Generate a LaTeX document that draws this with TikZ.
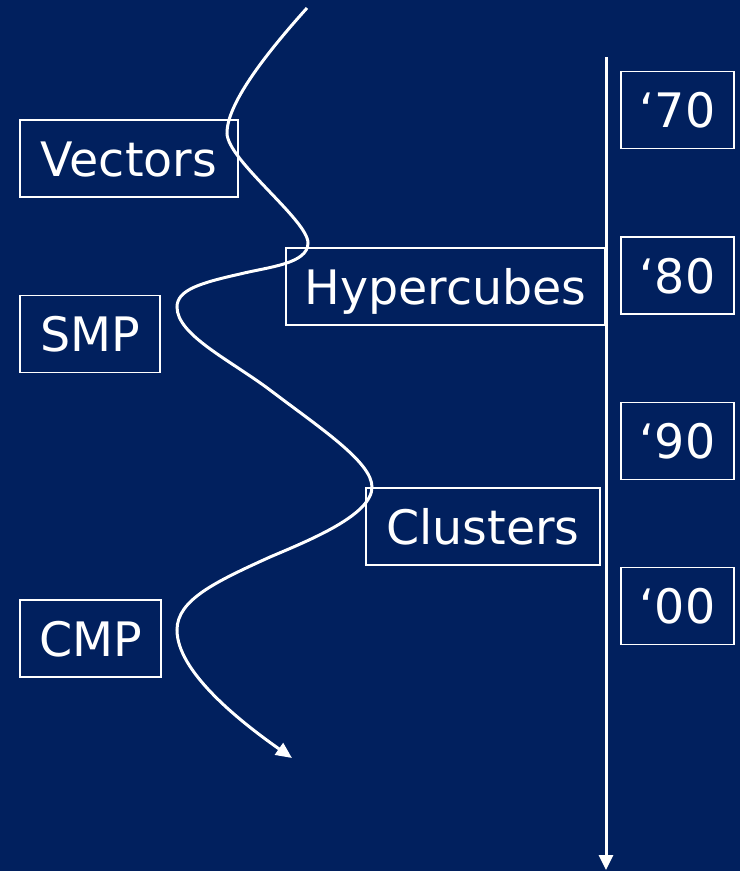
\documentclass[tikz,border=0pt]{standalone}
\usepackage{fontspec}
\setmainfont{DejaVu Sans}
\usetikzlibrary{arrows.meta}
\definecolor{navy}{RGB}{1,32,94}
\begin{document}
\begin{tikzpicture}[x=1pt,y=-1pt,
  labelbox/.style={draw=white, line width=1.6pt, text=white, inner sep=0pt,
    minimum height=77pt, text height=35pt, text depth=0pt,
    font=\fontsize{47.5}{57}\selectfont},
  wave/.style={draw=white, line width=3pt, -{Triangle[length=16pt,width=14pt]}},
  axis/.style={draw=white, line width=3pt, -{Triangle[length=15pt,width=14pt]}}]
% background
\fill[navy] (0,0) rectangle (740,871);
\useasboundingbox (0,0) rectangle (740,871);

% architecture labels
\node[labelbox, minimum width=218pt] (vectors) at (129,158.5) {Vectors};
\node[labelbox, minimum width=140pt] (smp) at (90,334) {SMP};
\node[labelbox, minimum width=141pt] (cmp) at (90.5,638.5) {CMP};
\node[labelbox, minimum width=319pt] (hyper) at (445.5,286.5) {Hypercubes};
\node[labelbox, minimum width=234pt] (clusters) at (483,526.5) {Clusters};

% decade labels
\node[labelbox, minimum width=113pt] (d70) at (677.5,110) {‘70};
\node[labelbox, minimum width=113pt] (d80) at (677.5,275.5) {‘80};
\node[labelbox, minimum width=113pt] (d90) at (677.5,441) {‘90};
\node[labelbox, minimum width=113pt] (d00) at (677.5,606) {‘00};

% time axis
\coordinate (tstart) at (606,57);
\coordinate (tend) at (606,870);
\draw[axis] (tstart) -- (tend);

% winding trend line
\coordinate (w0) at (307,8);
\coordinate (w1) at (227,133);
\coordinate (w2) at (308,243);
\coordinate (w3) at (240,274);
\coordinate (w4) at (177,307);
\coordinate (w5) at (270,390);
\coordinate (w6) at (372,487);
\coordinate (w7) at (270,557);
\coordinate (w8) at (177,630);
\coordinate (w9) at (292,758);
\draw[wave] (w0) .. controls (262,58) and (227,105) .. (w1)
  .. controls (227,160) and (308,220) .. (w2)
  .. controls (308,264) and (268,267) .. (w3)
  .. controls (200,283) and (177,290) .. (w4)
  .. controls (177,335) and (230,360) .. (w5)
  .. controls (320,428) and (372,462) .. (w6)
  .. controls (372,515) and (310,540) .. (w7)
  .. controls (215,582) and (177,600) .. (w8)
  .. controls (177,670) and (235,718) .. (w9);
\end{tikzpicture}
\end{document}
